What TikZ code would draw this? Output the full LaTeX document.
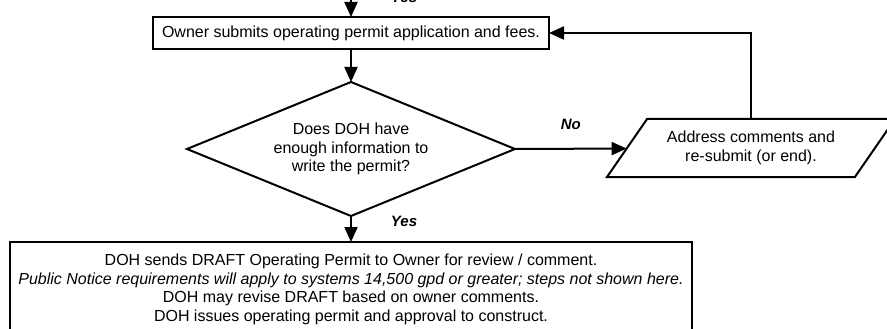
\documentclass[tikz,border=0pt]{standalone}
\usepackage{fontspec}
\setmainfont{Liberation Sans}
\usetikzlibrary{positioning,calc,arrows.meta,shapes.geometric}

\begin{document}
\begin{tikzpicture}[node distance=26pt,
  font=\fontsize{16pt}{18.5pt}\selectfont,
  line width=2pt, >={Triangle[length=15pt,width=13pt]},
  stepbox/.style={draw, rectangle, outer sep=0pt, align=center},
  decide/.style={draw, diamond, aspect=2.45, inner sep=0pt, outer sep=0pt,
    minimum width=328pt, minimum height=134pt, align=center},
  redo/.style={draw, trapezium, trapezium left angle=45, trapezium right angle=135,
    trapezium stretches body, outer sep=0pt, minimum width=288pt,
    minimum height=58pt, align=center},
  lbl/.style={font=\fontsize{15pt}{17pt}\selectfont\bfseries\itshape, inner sep=0pt}]
    \useasboundingbox (-351pt,33pt) rectangle (536pt,-296pt);
    \node[stepbox, minimum width=396pt, minimum height=32pt] (sub)
      {Owner submits operating permit application and fees.};
    \coordinate[above=24pt of sub] (intop);
    \node[decide, below=33pt of sub] (dec)
      {Does DOH have\\ enough information to\\ write the permit?};
    \node[stepbox, below=of dec, minimum width=681pt, minimum height=95pt] (issue)
      {DOH sends DRAFT Operating Permit to Owner for review / comment.\\
       \textit{Public Notice requirements will apply to systems 14,500 gpd or greater; steps not shown here.}\\
       DOH may revise DRAFT based on owner comments.\\
       DOH issues operating permit and approval to construct.};
    \node[redo] (addr) at ([xshift=400pt,yshift=1pt]dec.center)
      {Address comments and\\ re-submit (or end).};
    %
    \draw[->] (intop) -- node[lbl, pos=0.2, right=39pt] (yesin) {Yes} (sub);
    \draw[->] (sub) -- (dec);
    \draw[->] (dec.south) -- node[lbl, pos=0.2, right=39pt] (yesout) {Yes} (issue);
    \draw[->] (dec.east) -- node[lbl, midway, above=18pt] (no) {No} (addr);
    \draw[->] (addr.center |- addr.north) |- (sub.east);
\end{tikzpicture}
\end{document}
